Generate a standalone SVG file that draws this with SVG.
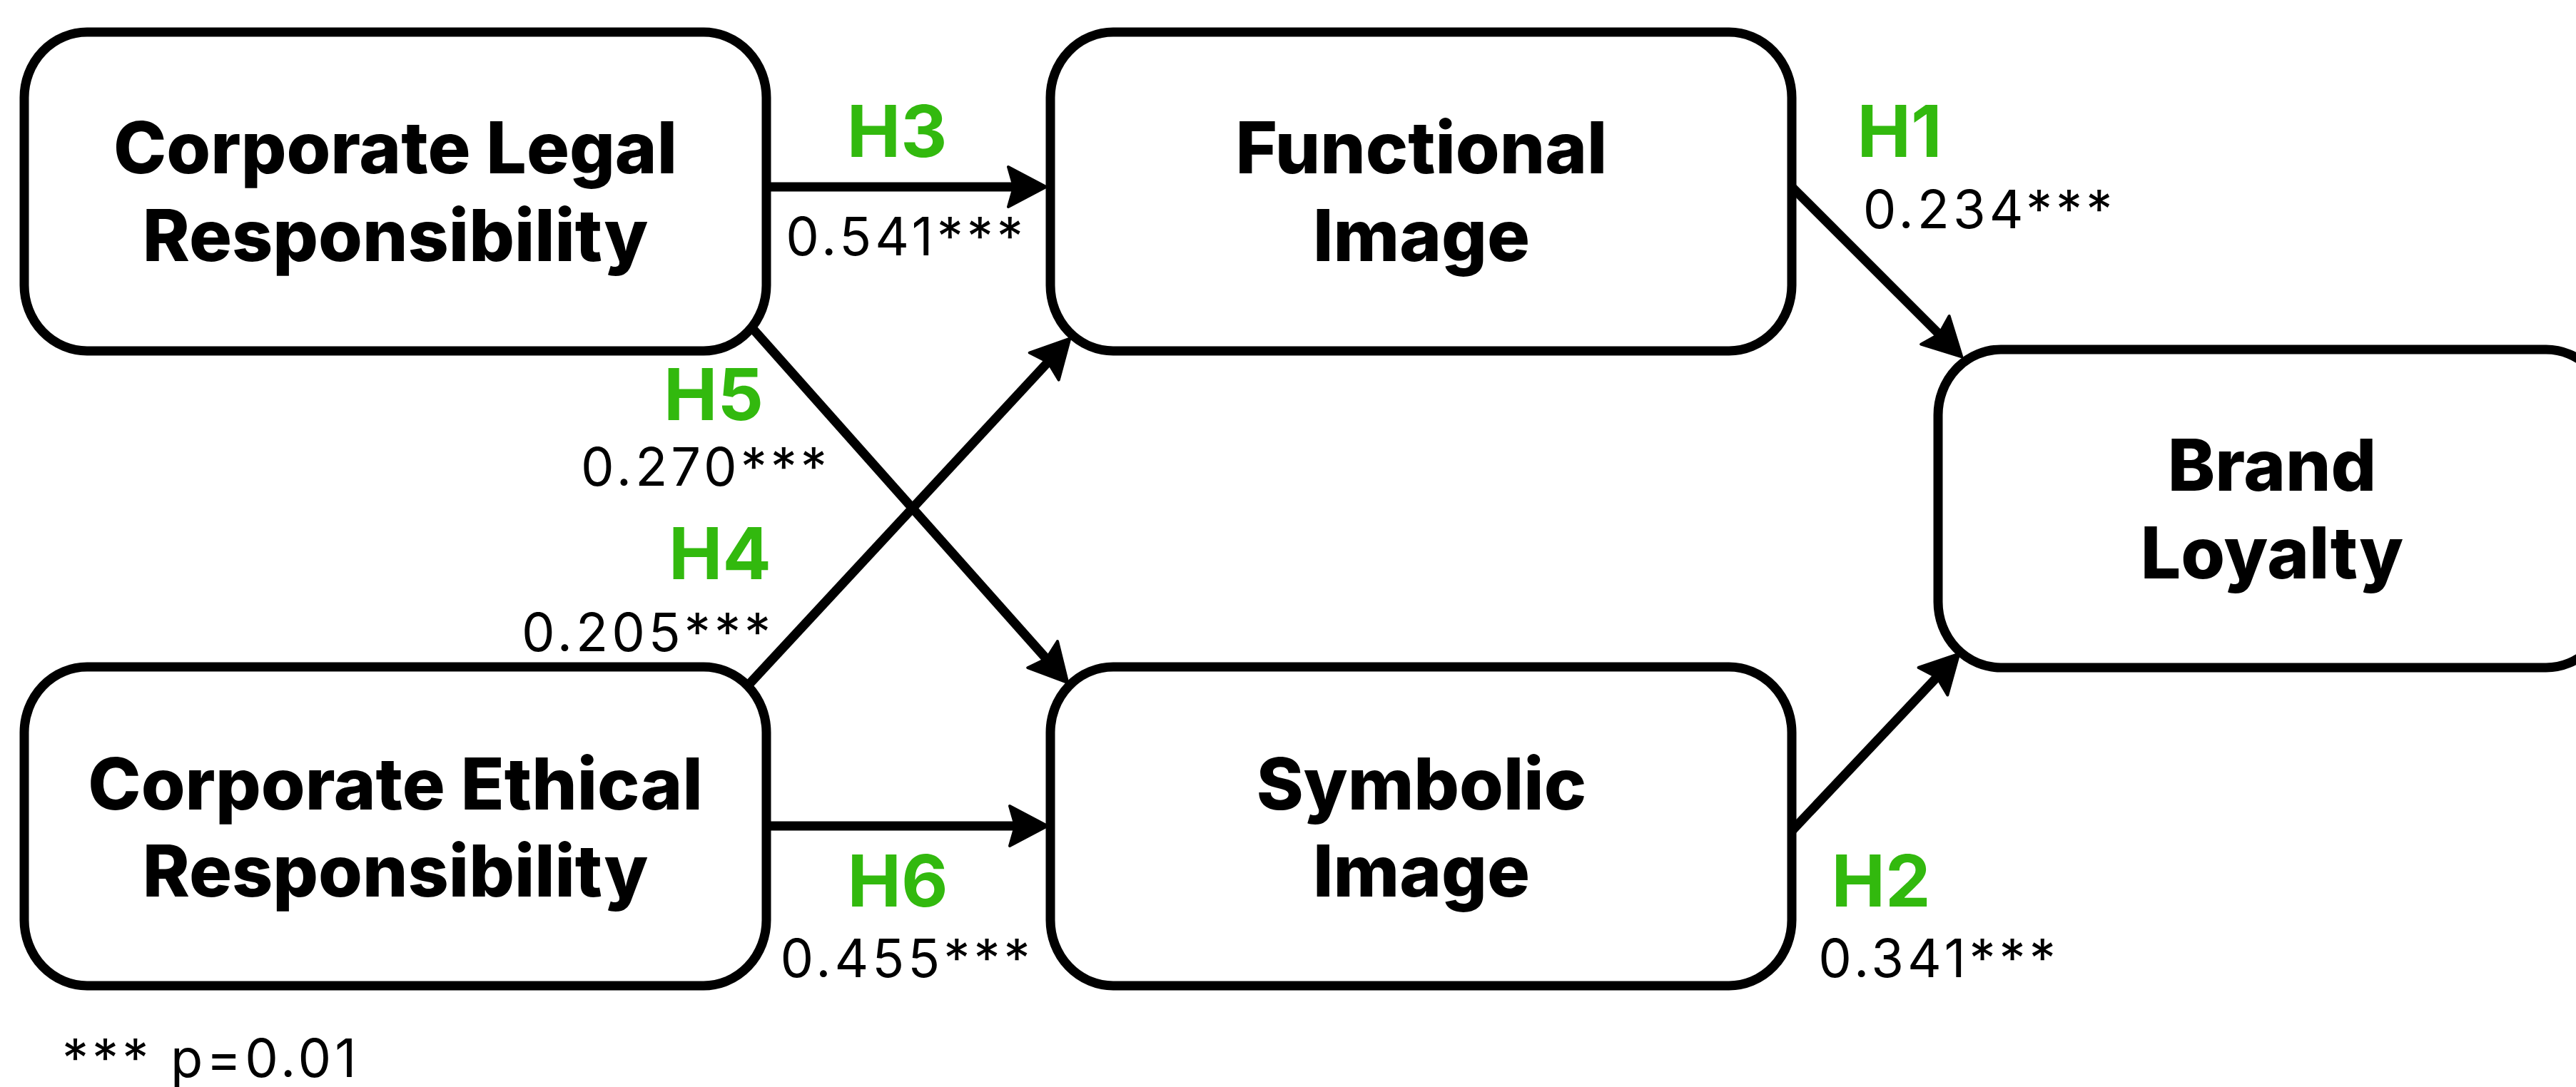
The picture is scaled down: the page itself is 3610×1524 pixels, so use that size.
<svg xmlns="http://www.w3.org/2000/svg" width="3610" height="1524" viewBox="0 0 3610 1524">
  <style>
    .box { fill: #ffffff; stroke: #000000; stroke-width: 13; }
    .title { font-family: Inter, "Liberation Sans", sans-serif; font-weight: 800; font-size: 100px; fill: #000000; text-anchor: middle; }
    .hyp { font-family: Inter, "Liberation Sans", sans-serif; font-weight: 700; font-size: 101px; fill: #32b90e; text-anchor: middle; }
    .coef { font-family: Inter, "Liberation Sans", sans-serif; font-weight: 400; font-size: 74px; letter-spacing: 5px; fill: #000000; text-anchor: middle; }
    .note { font-family: Inter, "Liberation Sans", sans-serif; font-weight: 400; font-size: 74px; letter-spacing: 5px; fill: #000000; }
    .edge { fill: none; stroke: #000000; stroke-width: 13; marker-end: url(#arrow); }
  </style>
  <defs>
    <marker id="arrow" markerUnits="userSpaceOnUse" viewBox="-20 -40 80 80" markerWidth="80" markerHeight="80" refX="0" refY="0" orient="auto" overflow="visible">
      <path d="M45,0 L-8,-28 L0,0 L-8,28 Z" fill="#000000" stroke="#000000" stroke-width="4" stroke-linejoin="round"/>
    </marker>
  </defs>

  <g id="connectors">
    <line class="edge" x1="1074" y1="262" x2="1421" y2="262"/>
    <line class="edge" x1="1074" y1="1158" x2="1423" y2="1158"/>
    <line class="edge" x1="2511" y1="262" x2="2717.5" y2="468.5"/>
    <line class="edge" x1="2511" y1="1165" x2="2714.4" y2="949.4"/>
    <line class="edge" x1="1051" y1="958" x2="1468.7" y2="507.7"/>
    <line class="edge" x1="1056" y1="462" x2="1466.4" y2="923.6"/>
  </g>

  <g id="node-legal">
    <rect class="box" x="34" y="45" width="1040" height="447" rx="88" ry="92"/>
    <text class="title" x="554" y="243">Corporate Legal</text>
    <text class="title" x="554" y="366">Responsibility</text>
  </g>
  <g id="node-functional">
    <rect class="box" x="1472" y="45" width="1039" height="447" rx="88" ry="92"/>
    <text class="title" x="1992" y="243">Functional</text>
    <text class="title" x="1992" y="366">Image</text>
  </g>
  <g id="node-brand">
    <rect class="box" x="2716" y="490" width="940" height="446" rx="88" ry="92"/>
    <text class="title" x="3184" y="688">Brand</text>
    <text class="title" x="3184" y="811">Loyalty</text>
  </g>
  <g id="node-ethical">
    <rect class="box" x="34" y="935" width="1040" height="447" rx="88" ry="92"/>
    <text class="title" x="554" y="1135">Corporate Ethical</text>
    <text class="title" x="554" y="1257">Responsibility</text>
  </g>
  <g id="node-symbolic">
    <rect class="box" x="1472" y="935" width="1039" height="447" rx="88" ry="92"/>
    <text class="title" x="1992" y="1135">Symbolic</text>
    <text class="title" x="1992" y="1257">Image</text>
  </g>

  <g id="edge-labels">
    <text class="hyp" x="1257" y="220">H3</text>
    <text class="coef" x="1270" y="358">0.541***</text>
    <text class="hyp" x="2662" y="220">H1</text>
    <text class="coef" x="2788" y="320">0.234***</text>
    <text class="hyp" x="1000" y="589">H5</text>
    <text class="coef" x="989" y="681">0.270***</text>
    <text class="hyp" x="1009" y="812">H4</text>
    <text class="coef" x="908" y="913">0.205***</text>
    <text class="hyp" x="1258" y="1271">H6</text>
    <text class="coef" x="1271" y="1370">0.455***</text>
    <text class="hyp" x="2636" y="1271">H2</text>
    <text class="coef" x="2717" y="1370">0.341***</text>
  </g>

  <text class="note" x="87" y="1510">*** p=0.01</text>
</svg>
